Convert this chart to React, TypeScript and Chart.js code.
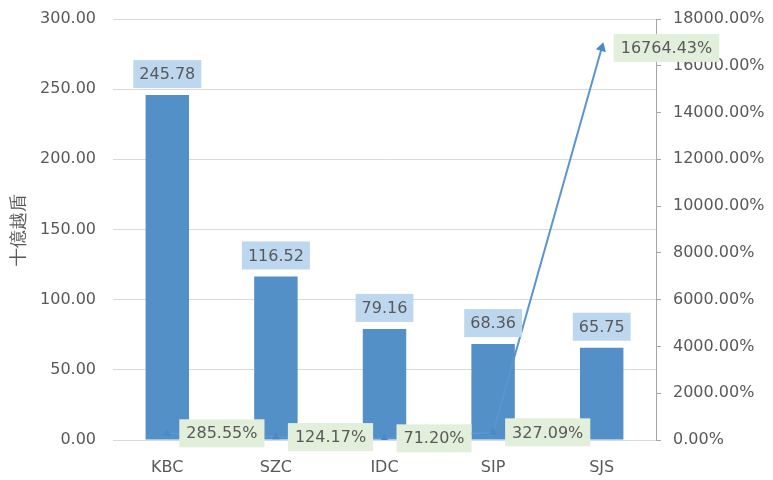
import React, { useEffect, useRef } from 'react';
import { Chart, registerables } from 'chart.js';

Chart.register(...registerables);

const categories = ['KBC', 'SZC', 'IDC', 'SIP', 'SJS'];
const barValues = [245.78, 116.52, 79.16, 68.36, 65.75];
const lineValues = [285.55, 124.17, 71.2, 327.09, 16764.43];
const leftAxisTitle = '十億越盾';

const FONT = '"DejaVu Sans", Verdana, sans-serif';
const TEXT = '#595959';

const labelPlugin = {
  id: 'boxLabels',
  afterDatasetsDraw(chart: any) {
    const ctx = chart.ctx;
    ctx.save();
    ctx.font = `16px ${FONT}`;
    ctx.textBaseline = 'middle';
    const barMeta = chart.getDatasetMeta(1);
    barMeta.data.forEach((el: any, i: number) => {
      const txt = barValues[i].toFixed(2);
      const w = ctx.measureText(txt).width + 12;
      const h = 28;
      const cx = el.x;
      const bottom = el.y - 7;
      ctx.fillStyle = '#bdd7ee';
      ctx.fillRect(cx - w / 2, bottom - h, w, h);
      ctx.fillStyle = TEXT;
      ctx.textAlign = 'center';
      ctx.fillText(txt, cx, bottom - h / 2 + 1);
    });
    const lineMeta = chart.getDatasetMeta(0);
    lineMeta.data.forEach((el: any, i: number) => {
      const txt = lineValues[i].toFixed(2) + '%';
      const w = ctx.measureText(txt).width + 14;
      const h = 28;
      const left = el.x + 12;
      const cy = el.y;
      ctx.fillStyle = '#e2efda';
      ctx.fillRect(left, cy - h / 2, w, h);
      ctx.fillStyle = TEXT;
      ctx.textAlign = 'left';
      ctx.fillText(txt, left + 7, cy + 1);
    });
    ctx.restore();
  },
};

export default function App() {
  const ref = useRef<HTMLCanvasElement>(null);
  useEffect(() => {
    document.body.style.margin = '0';
    const chart = new Chart(ref.current!, {
      type: 'bar',
      data: {
        labels: categories,
        datasets: [
          {
            type: 'line',
            data: lineValues,
            yAxisID: 'y1',
            borderColor: '#5b95cf',
            backgroundColor: '#4a88c7',
            borderWidth: 2,
            pointStyle: 'triangle',
            pointRadius: [4.5, 4.5, 4.5, 4.5, 6],
            pointRotation: [0, 0, 0, 0, 16],
            pointBorderWidth: 0,
            order: 0,
          } as any,
          {
            type: 'bar',
            data: barValues,
            yAxisID: 'y',
            backgroundColor: '#5390c8',
            categoryPercentage: 1,
            barPercentage: 0.4,
            order: 1,
          },
        ],
      },
      options: {
        animation: false,
        responsive: true,
        maintainAspectRatio: false,
        layout: { padding: 0 },
        plugins: { legend: { display: false }, tooltip: { enabled: false } },
        scales: {
          x: {
            grid: { display: false },
            border: { display: false },
            ticks: { color: TEXT, font: { family: FONT, size: 16 }, padding: 10 },
            afterFit(s: any) {
              s.height = 40;
              s.paddingLeft = 0;
              s.paddingRight = 0;
            },
          },
          y: {
            position: 'left',
            min: 0,
            max: 300,
            ticks: {
              stepSize: 50,
              color: TEXT,
              font: { family: FONT, size: 16 },
              padding: 17,
              callback: (v: any) => Number(v).toFixed(2),
            },
            grid: { color: '#d9d9d9', drawTicks: false, lineWidth: 1 },
            border: { display: false },
            title: {
              display: true,
              text: leftAxisTitle,
              color: TEXT,
              font: { family: FONT, size: 18 },
              padding: { top: 9, bottom: 4 },
            },
            afterFit(s: any) {
              s.width = 113;
              s.paddingTop = 19;
              s.paddingBottom = 0;
            },
          },
          y1: {
            position: 'right',
            min: 0,
            max: 18000,
            ticks: {
              stepSize: 2000,
              color: TEXT,
              font: { family: FONT, size: 16 },
              padding: 12,
              callback: (v: any) => Number(v).toFixed(2) + '%',
            },
            grid: { drawOnChartArea: false, color: '#a6a6a6', tickLength: 5 },
            border: { display: true, color: '#a6a6a6' },
            afterFit(s: any) {
              s.width = 117;
              s.paddingTop = 19;
              s.paddingBottom = 0;
            },
          },
        },
      },
      plugins: [labelPlugin],
    });
    return () => chart.destroy();
  }, []);
  return (
    <div style={{ position: 'relative', width: 773, height: 480 }}>
      <canvas ref={ref} />
    </div>
  );
}
